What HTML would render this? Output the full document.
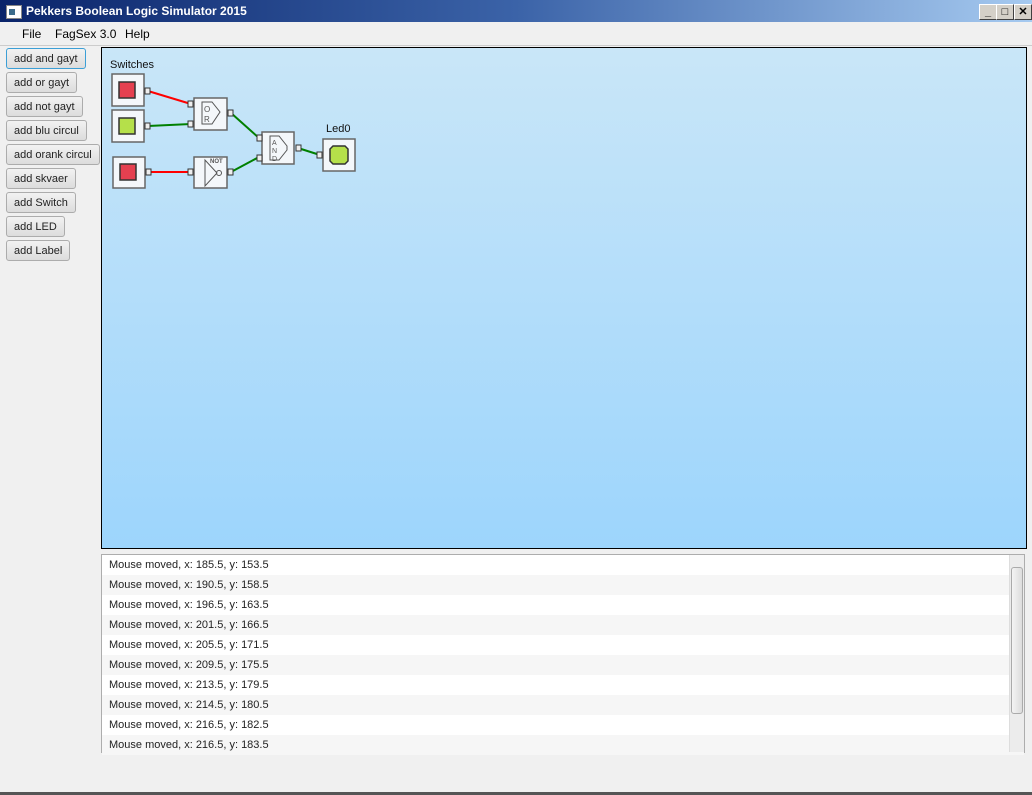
<!DOCTYPE html>
<html><head><style>
body{margin:0;width:1032px;height:795px;background:#f0f0f0;font-family:"Liberation Sans",sans-serif;font-size:12px;position:relative;overflow:hidden}
.t{position:absolute;left:0;top:0;width:1032px;height:22px;background:linear-gradient(90deg,#0a246a,#3b63a8 50%,#a6caf0);color:#fff;font-weight:bold;font-size:12px}
.t span{position:absolute;left:26px;top:4px}
.ic{position:absolute;left:6px;top:5px;width:14px;height:12px;background:#fff;border:1px solid #888}
.ic::after{content:"";position:absolute;left:2px;top:3px;width:6px;height:6px;background:#3c6c8c}
.wb{position:absolute;top:4px;width:16px;height:14px;background:#d4d0c8;border:1px solid;border-color:#fff #404040 #404040 #fff;color:#000;font-size:11px;text-align:center;line-height:14px}
.menu{position:absolute;top:27px;font-size:12px;color:#000}
.btn{position:absolute;left:6px;height:21px;background:linear-gradient(#f2f2f2,#dcdcdc);border:1px solid #acacac;border-radius:3px;color:#222;font-size:11px;line-height:21px;padding:0 7px;box-sizing:border-box}
.cv{position:absolute;left:101px;top:47px;width:924px;height:500px;border:1px solid #000;background:linear-gradient(#c9e6f8,#9dd5fc)}
.log{position:absolute;left:101px;top:554px;width:924px;height:199px;border:1px solid #adadad;background:#fff;box-sizing:border-box}
.row{height:20px;line-height:20px;padding-left:7px;font-size:11px;color:#222}
.row:nth-child(even){background:#f6f6f6}
.sb{position:absolute;right:0;top:0;width:14px;height:197px;background:#ececec;border-left:1px solid #ddd}
.th{position:absolute;left:1px;top:12px;width:10px;height:145px;border:1px solid #aaa;border-radius:3px;background:linear-gradient(90deg,#f4f4f4,#dcdcdc)}
</style></head><body>
<div class="t"><div class="ic"></div><span>Pekkers Boolean Logic Simulator 2015</span>
<div class="wb" style="left:979px">_</div><div class="wb" style="left:996px">□</div><div class="wb" style="left:1014px;font-weight:bold">✕</div></div>
<div class="menu" style="left:22px">File</div><div class="menu" style="left:55px">FagSex 3.0</div><div class="menu" style="left:125px">Help</div>
<div style="position:absolute;left:0;top:45px;width:1032px;height:1px;background:#ccc"></div>
<div class="btn" style="top:48px;border-color:#3c9fd6">add and gayt</div>
<div class="btn" style="top:72px">add or gayt</div>
<div class="btn" style="top:96px">add not gayt</div>
<div class="btn" style="top:120px">add blu circul</div>
<div class="btn" style="top:144px">add orank circul</div>
<div class="btn" style="top:168px">add skvaer</div>
<div class="btn" style="top:192px">add Switch</div>
<div class="btn" style="top:216px">add LED</div>
<div class="btn" style="top:240px">add Label</div>
<div class="cv"></div>
<svg style="position:absolute;left:0;top:0" width="1032" height="795" font-family="Liberation Sans,sans-serif">
<text x="110" y="68" font-size="11" fill="#111">Switches</text>
<text x="326" y="132" font-size="11" fill="#111">Led0</text>
<g stroke-width="2">
<line x1="148" y1="91" x2="191" y2="104" stroke="#f00"/>
<line x1="148" y1="126" x2="191" y2="124" stroke="#008000"/>
<line x1="148" y1="172" x2="191" y2="172" stroke="#f00"/>
<line x1="231" y1="113" x2="259" y2="138" stroke="#008000"/>
<line x1="231" y1="172" x2="259" y2="157" stroke="#008000"/>
<line x1="298" y1="148" x2="320" y2="155" stroke="#008000"/>
</g>
<g fill="#f4f7fa" stroke="#666" stroke-width="1.5">
<rect x="112" y="74" width="32" height="32"/><rect x="112" y="110" width="32" height="32"/><rect x="113" y="157" width="32" height="31"/>
<rect x="194" y="98" width="33" height="32"/><rect x="194" y="157" width="33" height="31"/><rect x="262" y="132" width="32" height="32"/><rect x="323" y="139" width="32" height="32"/>
</g>
<g stroke="#333" stroke-width="1.5">
<rect x="119" y="82" width="16" height="16" fill="#e54050"/><rect x="119" y="118" width="16" height="16" fill="#b5e04a"/><rect x="120" y="164" width="16" height="16" fill="#e54050"/>
<polygon points="333,146 345,146 348,149 348,161 345,164 333,164 330,161 330,149" fill="#b5e04a"/>
</g>
<g fill="#eee" stroke="#333" stroke-width="1">
<rect x="145" y="88" width="5" height="6"/><rect x="145" y="123" width="5" height="6"/><rect x="146" y="169" width="5" height="6"/>
<rect x="188" y="101" width="5" height="6"/><rect x="188" y="121" width="5" height="6"/><rect x="228" y="110" width="5" height="6"/>
<rect x="188" y="169" width="5" height="6"/><rect x="228" y="169" width="5" height="6"/>
<rect x="257" y="135" width="5" height="6"/><rect x="257" y="155" width="5" height="6"/><rect x="296" y="145" width="5" height="6"/>
<rect x="317" y="152" width="5" height="6"/>
</g>
<g fill="none" stroke="#555" stroke-width="1">
<path d="M202,102 h10 l8,10 l-8,12 h-10 z"/><text x="204" y="112" font-size="8" fill="#555" stroke="none">O</text><text x="204" y="122" font-size="8" fill="#555" stroke="none">R</text>
<path d="M270,136 h9 l8,10 v4 l-8,10 h-9 z"/><text x="272" y="145" font-size="7" fill="#555" stroke="none">A</text><text x="272" y="153" font-size="7" fill="#555" stroke="none">N</text><text x="272" y="161" font-size="7" fill="#555" stroke="none">D</text>
<path d="M205,160 v26 l12,-13 z"/><circle cx="219" cy="173" r="2.5"/><text x="210" y="163" font-size="6" fill="#555" stroke="none" font-weight="bold">NOT</text>
</g>
</svg>
<div class="log">
<div class="row">Mouse moved, x: 185.5, y: 153.5</div>
<div class="row">Mouse moved, x: 190.5, y: 158.5</div>
<div class="row">Mouse moved, x: 196.5, y: 163.5</div>
<div class="row">Mouse moved, x: 201.5, y: 166.5</div>
<div class="row">Mouse moved, x: 205.5, y: 171.5</div>
<div class="row">Mouse moved, x: 209.5, y: 175.5</div>
<div class="row">Mouse moved, x: 213.5, y: 179.5</div>
<div class="row">Mouse moved, x: 214.5, y: 180.5</div>
<div class="row">Mouse moved, x: 216.5, y: 182.5</div>
<div class="row">Mouse moved, x: 216.5, y: 183.5</div>
<div class="sb"><div class="th"></div></div>
</div>
<div style="position:absolute;left:0;top:792px;width:1032px;height:3px;background:#555"></div>
</body></html>
